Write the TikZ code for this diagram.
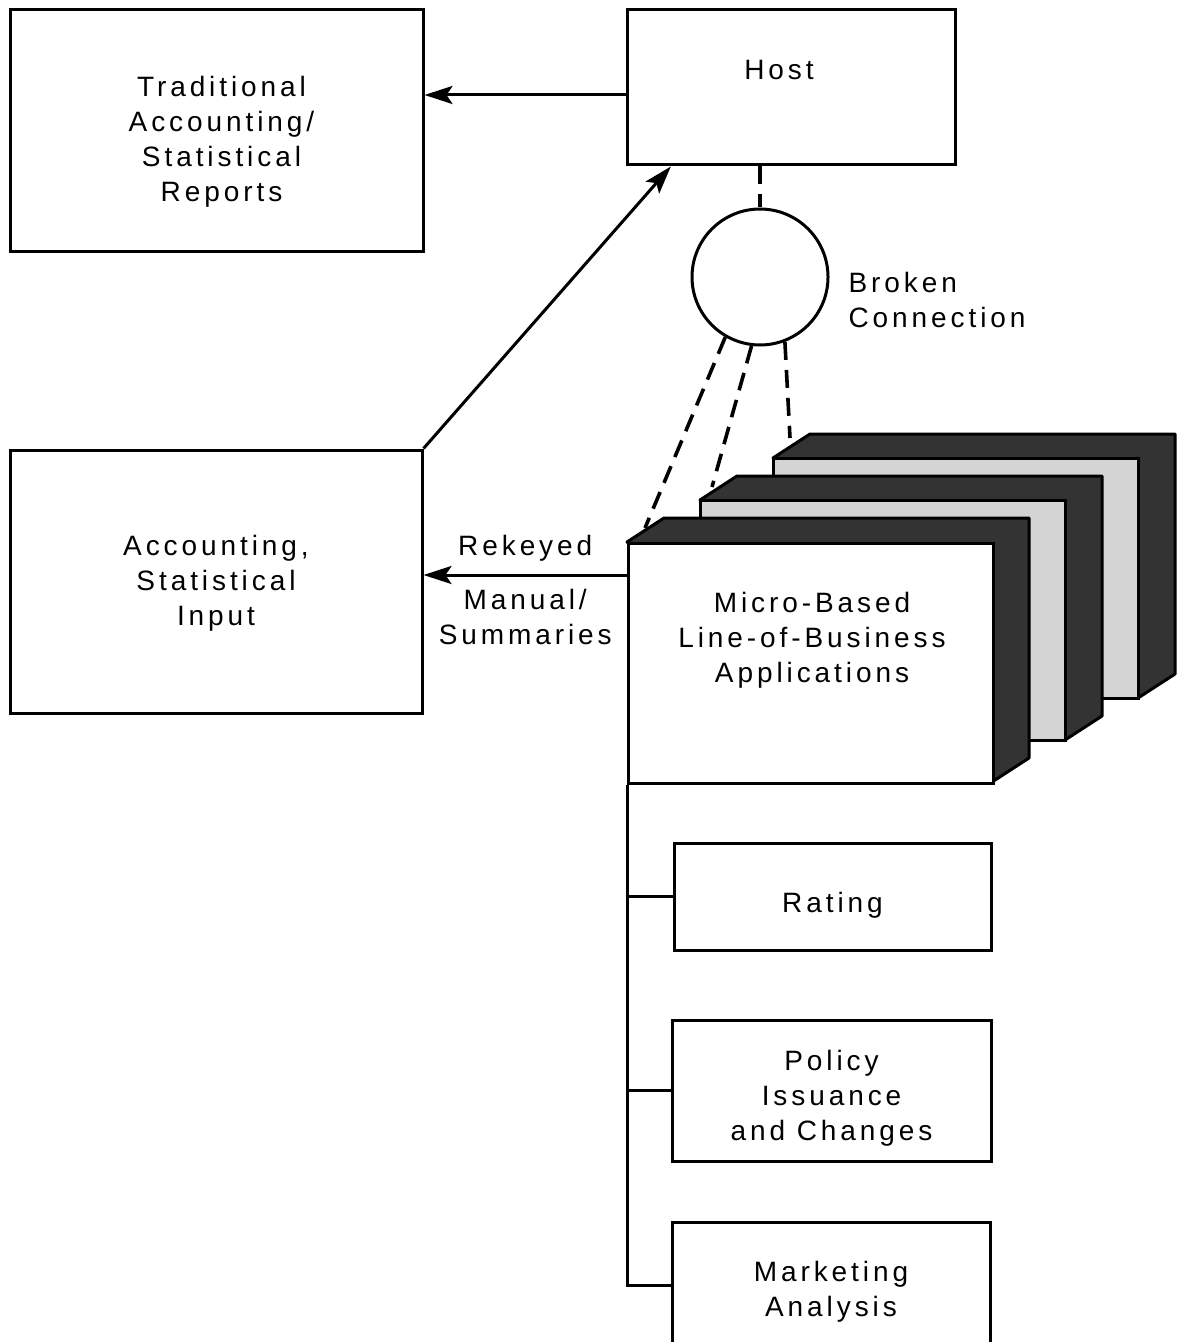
\documentclass[tikz,border=0pt]{standalone}
\usepackage{fontspec}
\setmainfont{Liberation Sans}[LetterSpace=14]
\usetikzlibrary{arrows.meta,positioning,calc}

\begin{document}
\begin{tikzpicture}[>={Stealth[length=14pt,width=9pt,inset=3pt]},x=0.5pt,y=-0.5pt,
	box/.style={draw,line width=1.5pt,inner sep=0pt},
	txt/.style={align=center,font=\fontsize{14}{17.5}\selectfont},
	link/.style={line width=1.5pt},
	brk/.style={line width=1.8pt,dash pattern=on 9pt off 5pt},
	side/.style={draw,line width=1.5pt,fill=black!80,line join=round}]
	\def\slabw{365}
	\def\slabh{240}
	\def\slabdx{37}
	\def\slabdy{24}
	\useasboundingbox (0,0) rectangle (1183,1342);
	\clip (0,0) rectangle (1183,1342);
	% upper row
	\node[box,minimum width=206.5pt,minimum height=121pt,label={[txt,xshift=2.5pt,yshift=-5.25pt]center:{Traditional\\Accounting/\\Statistical\\Reports}}] (trad) at (216.5,131) {};
	\node[box,minimum width=164pt,minimum height=77.5pt] (host) at (791,87.5) {};
	\node[txt] (hostlbl) at (779,70) {Host};
	\node[draw,circle,line width=1.5pt,minimum size=68pt] (circ) at (760,277) {};
	\node[txt,align=left,right=6pt of circ,yshift=-11.5pt] (brklbl) {Broken\\Connection};
	\node[box,minimum width=206pt,minimum height=131.5pt,label={[txt,yshift=-1pt]center:{Accounting,\\Statistical\\Input}}] (acc) at (216,581.5) {};
	% stacked micro boxes
	\foreach \bx/\by in {773/458,700/500}{
		\draw[side] (\bx,\by) -- ++(\slabdx,-\slabdy) -- ++(\slabw,0) -- ++(0,\slabh) -- ++(-\slabdx,\slabdy) -- cycle;
		\draw[line width=1.5pt,fill=black!17] (\bx,\by) rectangle ++(\slabw,\slabh);
	}
	\draw[side] (627,542) -- ++(\slabdx,-\slabdy) -- ++(\slabw,0) -- ++(0,\slabh) -- ++(-\slabdx,\slabdy) -- cycle;
	\node[box,fill=white,anchor=north west,minimum width=182.5pt,minimum height=120pt] (micro) at (627,542) {};
	\node[txt] (microlbl) at (812,640) {Micro-Based\\Line-of-Business\\Applications};
	% applications
	\node[box,minimum width=158.5pt,minimum height=53.5pt,label={[txt,yshift=-4.5pt]center:Rating}] (rating) at (832.5,896.5) {};
	\node[box,minimum width=159.5pt,minimum height=70.5pt,label={[txt,yshift=-4pt]center:{Policy\\Issuance\\and Changes}}] (policy) at (831.5,1090.5) {};
	\node[box,minimum width=159pt,minimum height=63pt,label={[txt,yshift=-3.25pt]center:{Marketing\\Analysis}}] (mkt) at (831,1285) {};
	% connections
	\coordinate (t1) at (645,528);
	\coordinate (t2) at (712,487);
	\coordinate (t3) at (790,438);
	\draw[brk] (host.south -| circ.north) -- (circ.north);
	\draw[brk] (circ.240) -- (t1);
	\draw[brk] (circ.263) -- (t2);
	\draw[brk] (circ.291) -- (t3);
	\draw[link,->] ([yshift=-3.75pt]host.west) -- ([yshift=-3.75pt]host.west -| trad.east);
	\draw[link,->] (acc.north east) -- ($(host.south west)!0.137!(host.south east)$);
	\draw[link,->] ([yshift=-16.5pt]micro.north west) coordinate (rk) -- node[txt,above=3pt]{Rekeyed} node[txt,below=3pt]{Manual/\\Summaries} (rk -| acc.east);
	\draw[link] (micro.south west) -- (micro.south west |- mkt.west) -- (mkt.west);
	\draw[link] (micro.south west |- rating.west) -- (rating.west);
	\draw[link] (micro.south west |- policy.west) -- (policy.west);
\end{tikzpicture}
\end{document}
